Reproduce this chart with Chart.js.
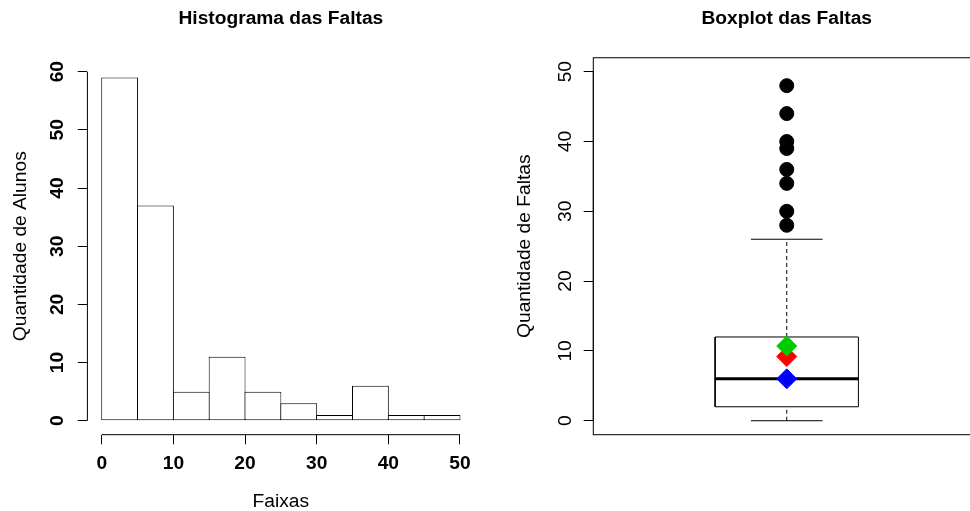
<!DOCTYPE html>
<html>
<head>
<meta charset="utf-8">
<script src="https://cdn.jsdelivr.net/npm/chart.js@4.4.0/dist/chart.umd.min.js"></script>
<style>
  html, body { margin: 0; padding: 0; background: #fff; overflow: hidden; }
  #histChart { position: absolute; left: 0; top: 0; }
  #boxChart { position: absolute; left: 485px; top: 0; }
</style>
</head>
<body>
<canvas id="histChart" width="485" height="511"></canvas>
<canvas id="boxChart" width="515" height="511"></canvas>
<script>
// histograma: classes de 5 faltas
const classMids = [2.5, 7.5, 12.5, 17.5, 22.5, 27.5, 32.5, 37.5, 42.5, 47.5];
const classCounts = [59, 37, 5, 11, 5, 3, 1, 6, 1, 1];
const histXTicks = [0, 10, 20, 30, 40, 50];
const histYTicks = [0, 10, 20, 30, 40, 50, 60];

// boxplot: bigode inf, Q1, mediana, Q3, bigode sup
const boxStats = [0, 2, 6, 12, 26];
const outliers = [28, 30, 34, 36, 39, 40, 44, 48];
const boxYTicks = [0, 10, 20, 30, 40, 50];
const blueMark = [6];
const redMark = [9.2];
const greenMark = [10.7];

Chart.defaults.font.family = '"Liberation Sans", Arial, Helvetica, sans-serif';
Chart.defaults.color = '#000';
Chart.defaults.animation = false;

const FS = 19.2;

// eixos no estilo R: linha so entre o primeiro e o ultimo tick, e moldura opcional
const rAxes = {
  id: 'rAxes',
  afterDraw(chart, args, opts) {
    const ctx = chart.ctx;
    ctx.save();
    ctx.strokeStyle = '#000';
    ctx.lineWidth = 1;
    for (const id of opts.axes || []) {
      const s = chart.scales[id];
      const a = s.getPixelForValue(s.ticks[0].value);
      const b = s.getPixelForValue(s.ticks[s.ticks.length - 1].value);
      ctx.beginPath();
      if (s.isHorizontal()) { ctx.moveTo(a, s.top); ctx.lineTo(b, s.top); }
      else { ctx.moveTo(s.right, a); ctx.lineTo(s.right, b); }
      ctx.stroke();
    }
    if (opts.frame) {
      const c = chart.chartArea;
      ctx.strokeRect(c.left, c.top, c.right - c.left, c.bottom - c.top);
    }
    ctx.restore();
  }
};

const setTicks = vals => s => { s.ticks = vals.map(v => ({ value: v })); };
const tickGrid = { display: true, drawOnChartArea: false, drawTicks: true, tickLength: 9.6, tickColor: '#000', offset: false };

new Chart(document.getElementById('histChart'), {
  type: 'bar',
  data: {
    datasets: [{
      data: classMids.map((m, i) => ({ x: m, y: classCounts[i] })),
      backgroundColor: '#fff',
      borderColor: '#000',
      borderWidth: 1,
      borderSkipped: false,
      barPercentage: 1.028,
      categoryPercentage: 1
    }]
  },
  options: {
    responsive: false,
    devicePixelRatio: 1,
    layout: { padding: { left: 0, right: 10.7, top: 0, bottom: 0 } },
    plugins: {
      legend: { display: false },
      tooltip: { enabled: false },
      title: {
        display: true, text: 'Histograma das Faltas', fullSize: false, color: '#000',
        font: { size: FS, weight: 'bold', lineHeight: 1.2 },
        padding: { top: 7.5, bottom: 27.2 }
      },
      rAxes: { axes: ['x', 'y'] }
    },
    scales: {
      x: {
        type: 'linear', min: -2, max: 52, offset: false,
        afterBuildTicks: setTicks(histXTicks),
        afterFit: s => { s.height = 76.3; },
        grid: tickGrid,
        border: { display: false },
        ticks: { font: { size: FS, weight: 'bold' }, padding: 7.5, autoSkip: false, maxRotation: 0 },
        title: { display: true, text: 'Faixas', font: { size: FS }, padding: { top: 0, bottom: -2 } }
      },
      y: {
        type: 'linear', min: -2.4, max: 62.4,
        afterBuildTicks: setTicks(histYTicks),
        afterFit: s => { s.width = 87.4; },
        grid: tickGrid,
        border: { display: false },
        ticks: { font: { size: FS, weight: 'bold' }, padding: 9.3, autoSkip: false, minRotation: 90, maxRotation: 90, crossAlign: 'center' },
        title: { display: true, text: 'Quantidade de Alunos', font: { size: FS }, padding: { top: 9.5, bottom: 0 } }
      }
    }
  },
  plugins: [rAxes]
});

// boxplot desenhado com segmentos numa escala linear
const bx = 1, boxHalf = 0.2, capHalf = 0.1;
const [wLo, q1, med, q3, wHi] = boxStats;

function segment(points, extra) {
  return Object.assign({
    data: points, showLine: true, pointRadius: 0, borderColor: '#000',
    borderWidth: 1, fill: false, borderCapStyle: 'butt', borderJoinStyle: 'miter', order: 10
  }, extra);
}

function marks(values, color, radius, style, order) {
  return {
    data: values.map(v => ({ x: bx, y: v })), showLine: false,
    pointStyle: style, pointRadius: radius, pointBackgroundColor: color,
    pointBorderColor: color, pointBorderWidth: 1, order
  };
}

new Chart(document.getElementById('boxChart'), {
  type: 'scatter',
  data: {
    datasets: [
      segment([{ x: bx - boxHalf, y: q1 }, { x: bx + boxHalf, y: q1 }, { x: bx + boxHalf, y: q3 }, { x: bx - boxHalf, y: q3 }, { x: bx - boxHalf, y: q1 }]),
      segment([{ x: bx - boxHalf, y: med }, { x: bx + boxHalf, y: med }], { borderWidth: 3 }),
      segment([{ x: bx, y: q3 }, { x: bx, y: wHi }], { borderDash: [4, 3] }),
      segment([{ x: bx, y: wLo }, { x: bx, y: q1 }], { borderDash: [4, 3] }),
      segment([{ x: bx - capHalf, y: wHi }, { x: bx + capHalf, y: wHi }]),
      segment([{ x: bx - capHalf, y: wLo }, { x: bx + capHalf, y: wLo }]),
      marks(outliers, '#000', 7, 'circle', 5),
      marks(blueMark, '#0000FF', 10, 'rectRot', 3),
      marks(redMark, '#FF0000', 10, 'rectRot', 2),
      marks(greenMark, '#00CC00', 10, 'rectRot', 1)
    ]
  },
  options: {
    responsive: false,
    devicePixelRatio: 1,
    layout: { padding: { left: 0, right: 19.8, top: 0, bottom: 76.3 } },
    plugins: {
      legend: { display: false },
      tooltip: { enabled: false },
      title: {
        display: true, text: 'Boxplot das Faltas', fullSize: false, color: '#000',
        font: { size: FS, weight: 'bold', lineHeight: 1.2 },
        padding: { top: 7.5, bottom: 27.2 }
      },
      rAxes: { axes: ['y'], frame: true }
    },
    scales: {
      x: { type: 'linear', min: 0.46, max: 1.54, display: false },
      y: {
        type: 'linear', min: -2, max: 52,
        afterBuildTicks: setTicks(boxYTicks),
        afterFit: s => { s.width = 108.3; },
        grid: tickGrid,
        border: { display: false },
        ticks: { font: { size: FS }, padding: 7.5, autoSkip: false, minRotation: 90, maxRotation: 90, crossAlign: 'center' },
        title: { display: true, text: 'Quantidade de Faltas', font: { size: FS }, padding: { top: 28, bottom: 0 } }
      }
    }
  },
  plugins: [rAxes]
});
</script>
</body>
</html>
